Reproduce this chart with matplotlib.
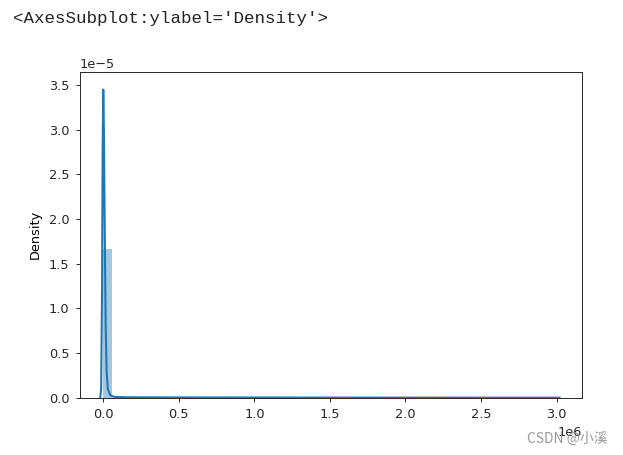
import matplotlib
matplotlib.use("Agg")
import matplotlib.pyplot as plt
import numpy as np

# ---- data ----
hist_start = -3000.0
bin_width = 60440.0
hist_heights = [1.67e-5] + [0.0004e-5, 0.0002e-5, 0.0001e-5, 0.0001e-5] + [0.00005e-5] * 10 + [0.0] * 35
kde_x = [-20000, -14000, -8000, -4000, 0, 4000, 10000, 16000, 22000, 30000, 45000, 70000,
         150000, 500000, 1000000, 2000000, 3019000]
kde_y = [0.0, 0.1e-5, 1.2e-5, 2.8e-5, 3.45e-5, 3.0e-5, 1.8e-5, 0.8e-5, 0.3e-5, 0.1e-5, 0.03e-5,
         0.01e-5, 0.005e-5, 0.003e-5, 0.002e-5, 0.001e-5, 0.0]
x_ticks = [0.0, 0.5e6, 1.0e6, 1.5e6, 2.0e6, 2.5e6, 3.0e6]
y_ticks = [0.0, 0.5e-5, 1.0e-5, 1.5e-5, 2.0e-5, 2.5e-5, 3.0e-5, 3.5e-5]
header = "<AxesSubplot:ylabel='Density'>"
watermark = "CSDN @小溪"

W, H = 623, 455
fig = plt.figure(figsize=(W / 100, H / 100), dpi=100)
ax = fig.add_axes([80 / W, 1 - 397.7 / H, (582.3 - 80) / W, (397.7 - 71.7) / H])

fs = 9.3
edges = hist_start + bin_width * np.arange(len(hist_heights))
ax.bar(edges, hist_heights, width=bin_width, align='edge', color='#1f77b4', alpha=0.4, linewidth=0)
ax.plot(kde_x, kde_y, color='#1f77b4', lw=1.5)

ax.set_xlim(-0.154e6, 3.170e6)
ax.set_ylim(0, 3.65e-5)
ax.set_xticks(x_ticks)
ax.set_yticks(y_ticks)
ax.ticklabel_format(style='sci', axis='both', scilimits=(0, 0), useMathText=False)
ax.tick_params(labelsize=fs, length=3.2, width=0.7, colors='#262626', pad=4.5)
ax.xaxis.get_offset_text().set_fontsize(fs)
ax.yaxis.get_offset_text().set_fontsize(fs)
for s in ax.spines.values():
    s.set_linewidth(0.7)
    s.set_color('#262626')
ax.set_ylabel('Density', fontsize=fs, labelpad=5)

fig.text(13 / W, 1 - 18 / H, header, family='Liberation Mono', fontsize=12.6, va='center', ha='left', color='#222222')
fig.text(608 / W, 1 - 439 / H, watermark, family=['Noto Sans CJK SC', 'DejaVu Sans'], fontsize=10,
         va='center', ha='right', color='#999999', zorder=10)

fig.savefig('out.png', dpi=100)
